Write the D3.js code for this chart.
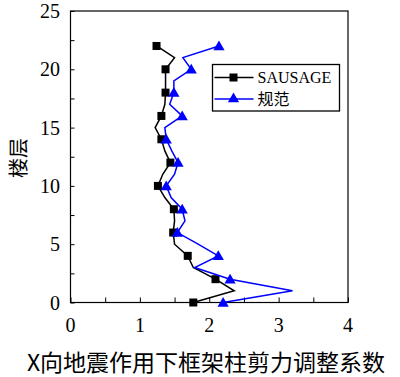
<!DOCTYPE html>
<html>
<head>
<meta charset="utf-8">
<script src="https://cdn.jsdelivr.net/npm/d3@7"></script>
<style>
  body { margin: 0; background: #fff; }
  svg { display: block; }
  .serif { font-family: "Liberation Serif", "DejaVu Serif", serif; }
  .cjk { font-family: "Noto Sans CJK SC", sans-serif; }
</style>
</head>
<body>
<svg id="chart" width="400" height="377"></svg>
<script>
// floors 0..22, markers on even floors
const floors = d3.range(0, 23);
const sausage = [1.77, 2.36, 2.09, 1.77, 1.69, 1.50, 1.48, 1.50, 1.49, 1.36, 1.26, 1.33,
                 1.44, 1.36, 1.31, 1.22, 1.31, 1.36, 1.37, 1.37, 1.37, 1.50, 1.24];
const guifan  = [2.20, 3.20, 2.30, 1.79, 2.13, 1.84, 1.54, 1.65, 1.61, 1.45, 1.38, 1.50,
                 1.55, 1.46, 1.38, 1.36, 1.61, 1.43, 1.49, 1.49, 1.74, 1.62, 2.14];
const seriesNames = ["SAUSAGE", "规范"];
const xTicks = [0, 1, 2, 3, 4];
const yTicks = [0, 5, 10, 15, 20, 25];
const xLabel = "X向地震作用下框架柱剪力调整系数";
const yLabel = "楼层";

const svg = d3.select("#chart");
const m = { left: 70.5, right: 348, top: 11, bottom: 302.5 };
const x = d3.scaleLinear().domain([0, 4]).range([m.left, m.right]);
const y = d3.scaleLinear().domain([0, 25]).range([m.bottom, m.top]);

// axes with inward ticks
const gx = svg.append("g").attr("transform", `translate(0,${m.bottom})`);
gx.call(d3.axisBottom(x).tickValues(d3.range(0, 4.01, 0.5)).tickSize(-5).tickFormat(""));
gx.select(".domain").remove();
gx.selectAll("line").attr("stroke", "#000");

const gy = svg.append("g").attr("transform", `translate(${m.left},0)`);
gy.call(d3.axisLeft(y).tickValues(d3.range(0, 25.01, 2.5)).tickSize(-4).tickFormat(""));
gy.select(".domain").remove();
gy.selectAll("line").attr("stroke", "#000");

svg.append("rect")
  .attr("x", m.left).attr("y", m.top)
  .attr("width", m.right - m.left).attr("height", m.bottom - m.top)
  .attr("fill", "none").attr("stroke", "#000").attr("stroke-width", 1.2);

svg.append("g").selectAll("text").data(xTicks).join("text")
  .attr("class", "serif")
  .attr("x", d => x(d)).attr("y", 332)
  .attr("text-anchor", "middle")
  .attr("font-size", 20)
  .text(d => d);

svg.append("g").selectAll("text").data(yTicks).join("text")
  .attr("class", "serif")
  .attr("x", 60).attr("y", d => y(d) + 7)
  .attr("text-anchor", "end")
  .attr("font-size", 20)
  .text(d => d);

svg.append("text")
  .attr("class", "cjk")
  .attr("x", 206).attr("y", 371)
  .attr("text-anchor", "middle")
  .attr("font-size", 23)
  .text(xLabel);

svg.append("text")
  .attr("class", "cjk")
  .attr("transform", "translate(26,158) rotate(-90)")
  .attr("text-anchor", "middle")
  .attr("font-size", 20)
  .text(yLabel);

// series
const line = d3.line().x(d => x(d[1])).y(d => y(d[0]));
const triangle = d3.symbol().type(d3.symbolTriangle).size(55);

function drawSeries(vals, color, marker) {
  const pts = floors.map((f, i) => [f, vals[i]]);
  svg.append("path").datum(pts)
    .attr("d", line).attr("fill", "none")
    .attr("stroke", color).attr("stroke-width", 1.5);
  const mk = pts.filter(p => p[0] % 2 === 0);
  if (marker === "square") {
    svg.append("g").selectAll("rect").data(mk).join("rect")
      .attr("x", d => x(d[1]) - 4).attr("y", d => y(d[0]) - 4)
      .attr("width", 8).attr("height", 8).attr("fill", color);
  } else {
    svg.append("g").selectAll("path").data(mk).join("path")
      .attr("d", triangle)
      .attr("transform", d => `translate(${x(d[1])},${y(d[0]) + 1})`)
      .attr("fill", color);
  }
}
drawSeries(sausage, "#000", "square");
drawSeries(guifan, "#0000ff", "triangle");

// legend
const lg = svg.append("g");
lg.append("rect")
  .attr("x", 212.5).attr("y", 64.5).attr("width", 127).attr("height", 46.5)
  .attr("fill", "#fff").attr("stroke", "#000").attr("stroke-width", 1.3);
const rows = [
  { name: seriesNames[0], color: "#000", marker: "square", cy: 77.5 },
  { name: seriesNames[1], color: "#0000ff", marker: "triangle", cy: 99 }
];
rows.forEach(r => {
  lg.append("line").attr("x1", 214.5).attr("x2", 253.5)
    .attr("y1", r.cy).attr("y2", r.cy)
    .attr("stroke", r.color).attr("stroke-width", 1.5);
  if (r.marker === "square") {
    lg.append("rect").attr("x", 229.5).attr("y", r.cy - 4)
      .attr("width", 8).attr("height", 8).attr("fill", r.color);
  } else {
    lg.append("path").attr("d", triangle)
      .attr("transform", `translate(233.5,${r.cy})`).attr("fill", r.color);
  }
  lg.append("text").attr("x", 257.5).attr("y", r.cy + 5.5)
    .attr("class", r.marker === "square" ? "serif" : "cjk")
    .attr("font-size", 16)
    .text(r.name);
});
</script>
</body>
</html>
